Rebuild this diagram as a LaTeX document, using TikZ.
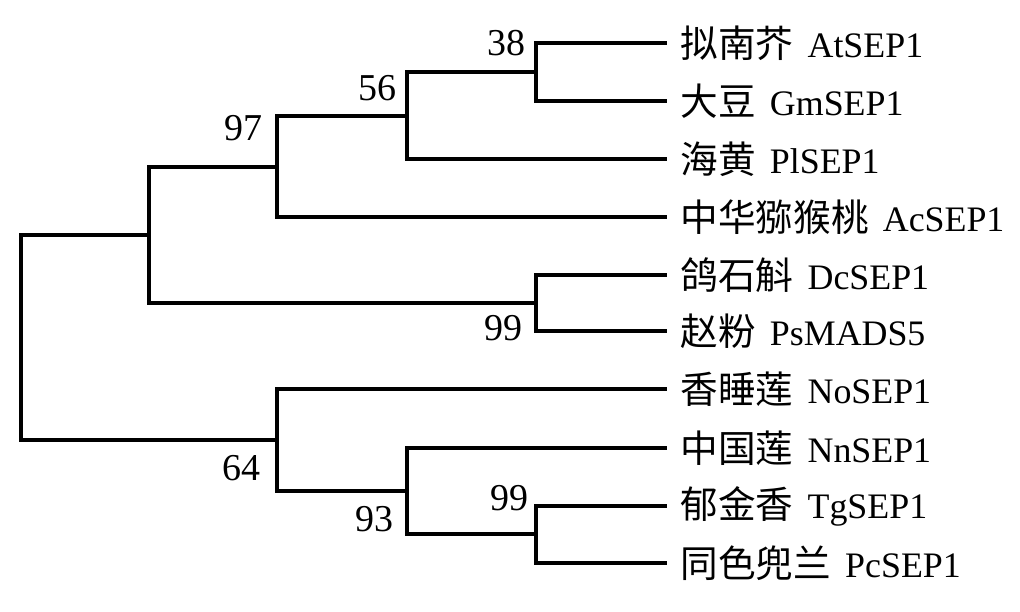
\documentclass[tikz,border=0pt]{standalone}
\usepackage{fontspec}
\setmainfont{Liberation Serif}
\newfontfamily\zh{Noto Sans CJK SC}
\tikzset{branch/.style={ % Sets the properties for each branch
           draw,
           line width=1pt},
         leaf/.style={ % Species labels at the tips
           anchor=west,
           inner xsep=0.13cm,
           inner ysep=0pt,
           font=\fontsize{10.2}{12}\selectfont},
         boot/.style={ % Bootstrap values
           anchor=east,
           inner sep=0pt,
           font=\fontsize{10.8}{12}\selectfont}}
\newcommand{\leaflabel}[2]{{\zh\fontsize{10.7}{12}\selectfont #1}\hspace{1.4mm}#2}

\begin{document}
\begin{tikzpicture}[x=0.01cm, y=-0.01cm]
  \useasboundingbox (0,0) rectangle (1020,611);

  \node [leaf] (at) at (667,43)  {\leaflabel{拟南芥}{AtSEP1}};
  \node [leaf] (gm) at (667,101) {\leaflabel{大豆}{GmSEP1}};
  \node [leaf] (pl) at (667,159) {\leaflabel{海黄}{PlSEP1}};
  \node [leaf] (ac) at (667,217) {\leaflabel{中华猕猴桃}{AcSEP1}};
  \node [leaf] (dc) at (667,275) {\leaflabel{鸽石斛}{DcSEP1}};
  \node [leaf] (ps) at (667,331) {\leaflabel{赵粉}{PsMADS5}};
  \node [leaf] (no) at (667,389) {\leaflabel{香睡莲}{NoSEP1}};
  \node [leaf] (nn) at (667,448) {\leaflabel{中国莲}{NnSEP1}};
  \node [leaf] (tg) at (667,506) {\leaflabel{郁金香}{TgSEP1}};
  \node [leaf] (pc) at (667,563) {\leaflabel{同色兜兰}{PcSEP1}};

  \coordinate (n38)   at (536,72);
  \coordinate (n56)   at (407,116);
  \coordinate (n97)   at (277,167);
  \coordinate (ntop)  at (149,235);
  \coordinate (n99a)  at (536,303);
  \coordinate (nroot) at (21,338);
  \coordinate (n64)   at (277,440);
  \coordinate (n93)   at (407,491);
  \coordinate (n99b)  at (536,534);

  \draw [branch] (n38) |- (at);  \draw [branch] (n38) |- (gm);
  \draw [branch] (n56) |- (n38); \draw [branch] (n56) |- (pl);
  \draw [branch] (n97) |- (n56); \draw [branch] (n97) |- (ac);
  \draw [branch] (n99a) |- (dc); \draw [branch] (n99a) |- (ps);
  \draw [branch] (ntop) |- (n97); \draw [branch] (ntop) |- (n99a);
  \draw [branch] (n99b) |- (tg); \draw [branch] (n99b) |- (pc);
  \draw [branch] (n93) |- (nn);  \draw [branch] (n93) |- (n99b);
  \draw [branch] (n64) |- (no);  \draw [branch] (n64) |- (n93);
  \draw [branch] (nroot) |- (ntop); \draw [branch] (nroot) |- (n64);

  \node [boot] (b38)  at (526,43)  {38};
  \node [boot] (b56)  at (397,88)  {56};
  \node [boot] (b97)  at (263,128) {97};
  \node [boot] (b99a) at (523,328) {99};
  \node [boot] (b64)  at (261,468) {64};
  \node [boot] (b93)  at (394,519) {93};
  \node [boot] (b99b) at (529,498) {99};
\end{tikzpicture}
\end{document}
